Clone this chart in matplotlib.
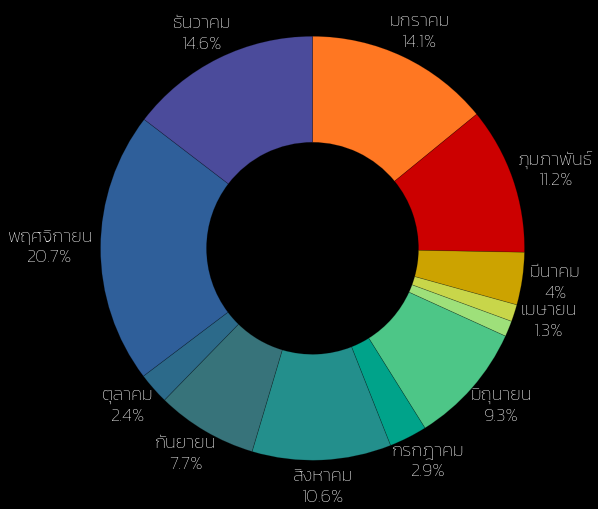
import numpy as np
import matplotlib
matplotlib.use('Agg')
import matplotlib.pyplot as plt

plt.rcParams['font.family'] = ['Kanit', 'DejaVu Sans']

# ข้อมูลรายเดือน (ร้อยละ)
months = ['มกราคม', 'ภุมภาพันธ์', 'มีนาคม', 'เมษายน', 'พฤษภาคม', 'มิถุนายน',
          'กรกฎาคม', 'สิงหาคม', 'กันยายน', 'ตุลาคม', 'พฤศจิกายน', 'ธันวาคม']
values = [14.1, 11.2, 4.0, 1.3, 1.2, 9.3, 2.9, 10.6, 7.7, 2.4, 20.7, 14.6]
value_text = ['14.1%', '11.2%', '4%', '1.3%', '', '9.3%', '2.9%', '10.6%',
              '7.7%', '2.4%', '20.7%', '14.6%']
colors = ['#ff7722', '#cc0000', '#cca300', '#c8d64a', '#9ee07a', '#4dc687',
          '#00a38a', '#238f8c', '#37737a', '#2c6a8a', '#2f5f9a', '#4b4b9b']

W, H = 598, 509
cx, cy = 312.5, H - 248.3
R = 212

fig = plt.figure(figsize=(W / 100, H / 100), dpi=100, facecolor='black')
ax = fig.add_axes([0, 0, 1, 1])
ax.set_facecolor('black')

wedges, _ = ax.pie(values, colors=colors, startangle=90, counterclock=False,
                   center=(cx, cy), radius=R,
                   wedgeprops=dict(width=R * 0.5, edgecolor=(0, 0, 0, 0.25),
                                   linewidth=0.5))
ax.set_xlim(0, W)
ax.set_ylim(0, H)
ax.set_aspect('equal')
ax.axis('off')

# ป้ายกำกับด้านนอก
fig.canvas.draw()
rend = fig.canvas.get_renderer()
gap = 8
prev = None
for w, name, pct in zip(wedges, months, value_text):
    if not pct:
        continue
    ang = np.deg2rad((w.theta1 + w.theta2) / 2)
    dx, dy = np.cos(ang), np.sin(ang)
    t = ax.text(0, 0, name + '\n' + pct, color='white', fontsize=13.3,
                fontweight='light', ha='center', va='center',
                multialignment='center', linespacing=1.3)
    bb = t.get_window_extent(rend)
    x = cx + (R + gap) * dx + dx * bb.width / 2
    y = cy + (R + gap) * dy + dy * bb.height / 2
    # ด้านขวา: ดันป้ายลงถ้าทับป้ายก่อนหน้า
    if prev is not None and dx > 0.8 and prev[3] > 0.8:
        px, py, ph, _ = prev
        need = (ph + bb.height) / 2 - 2
        if py - y < need:
            y = py - need
    t.set_position((x, y))
    prev = (x, y, bb.height, dx)

fig.savefig('out.png', facecolor='black')
